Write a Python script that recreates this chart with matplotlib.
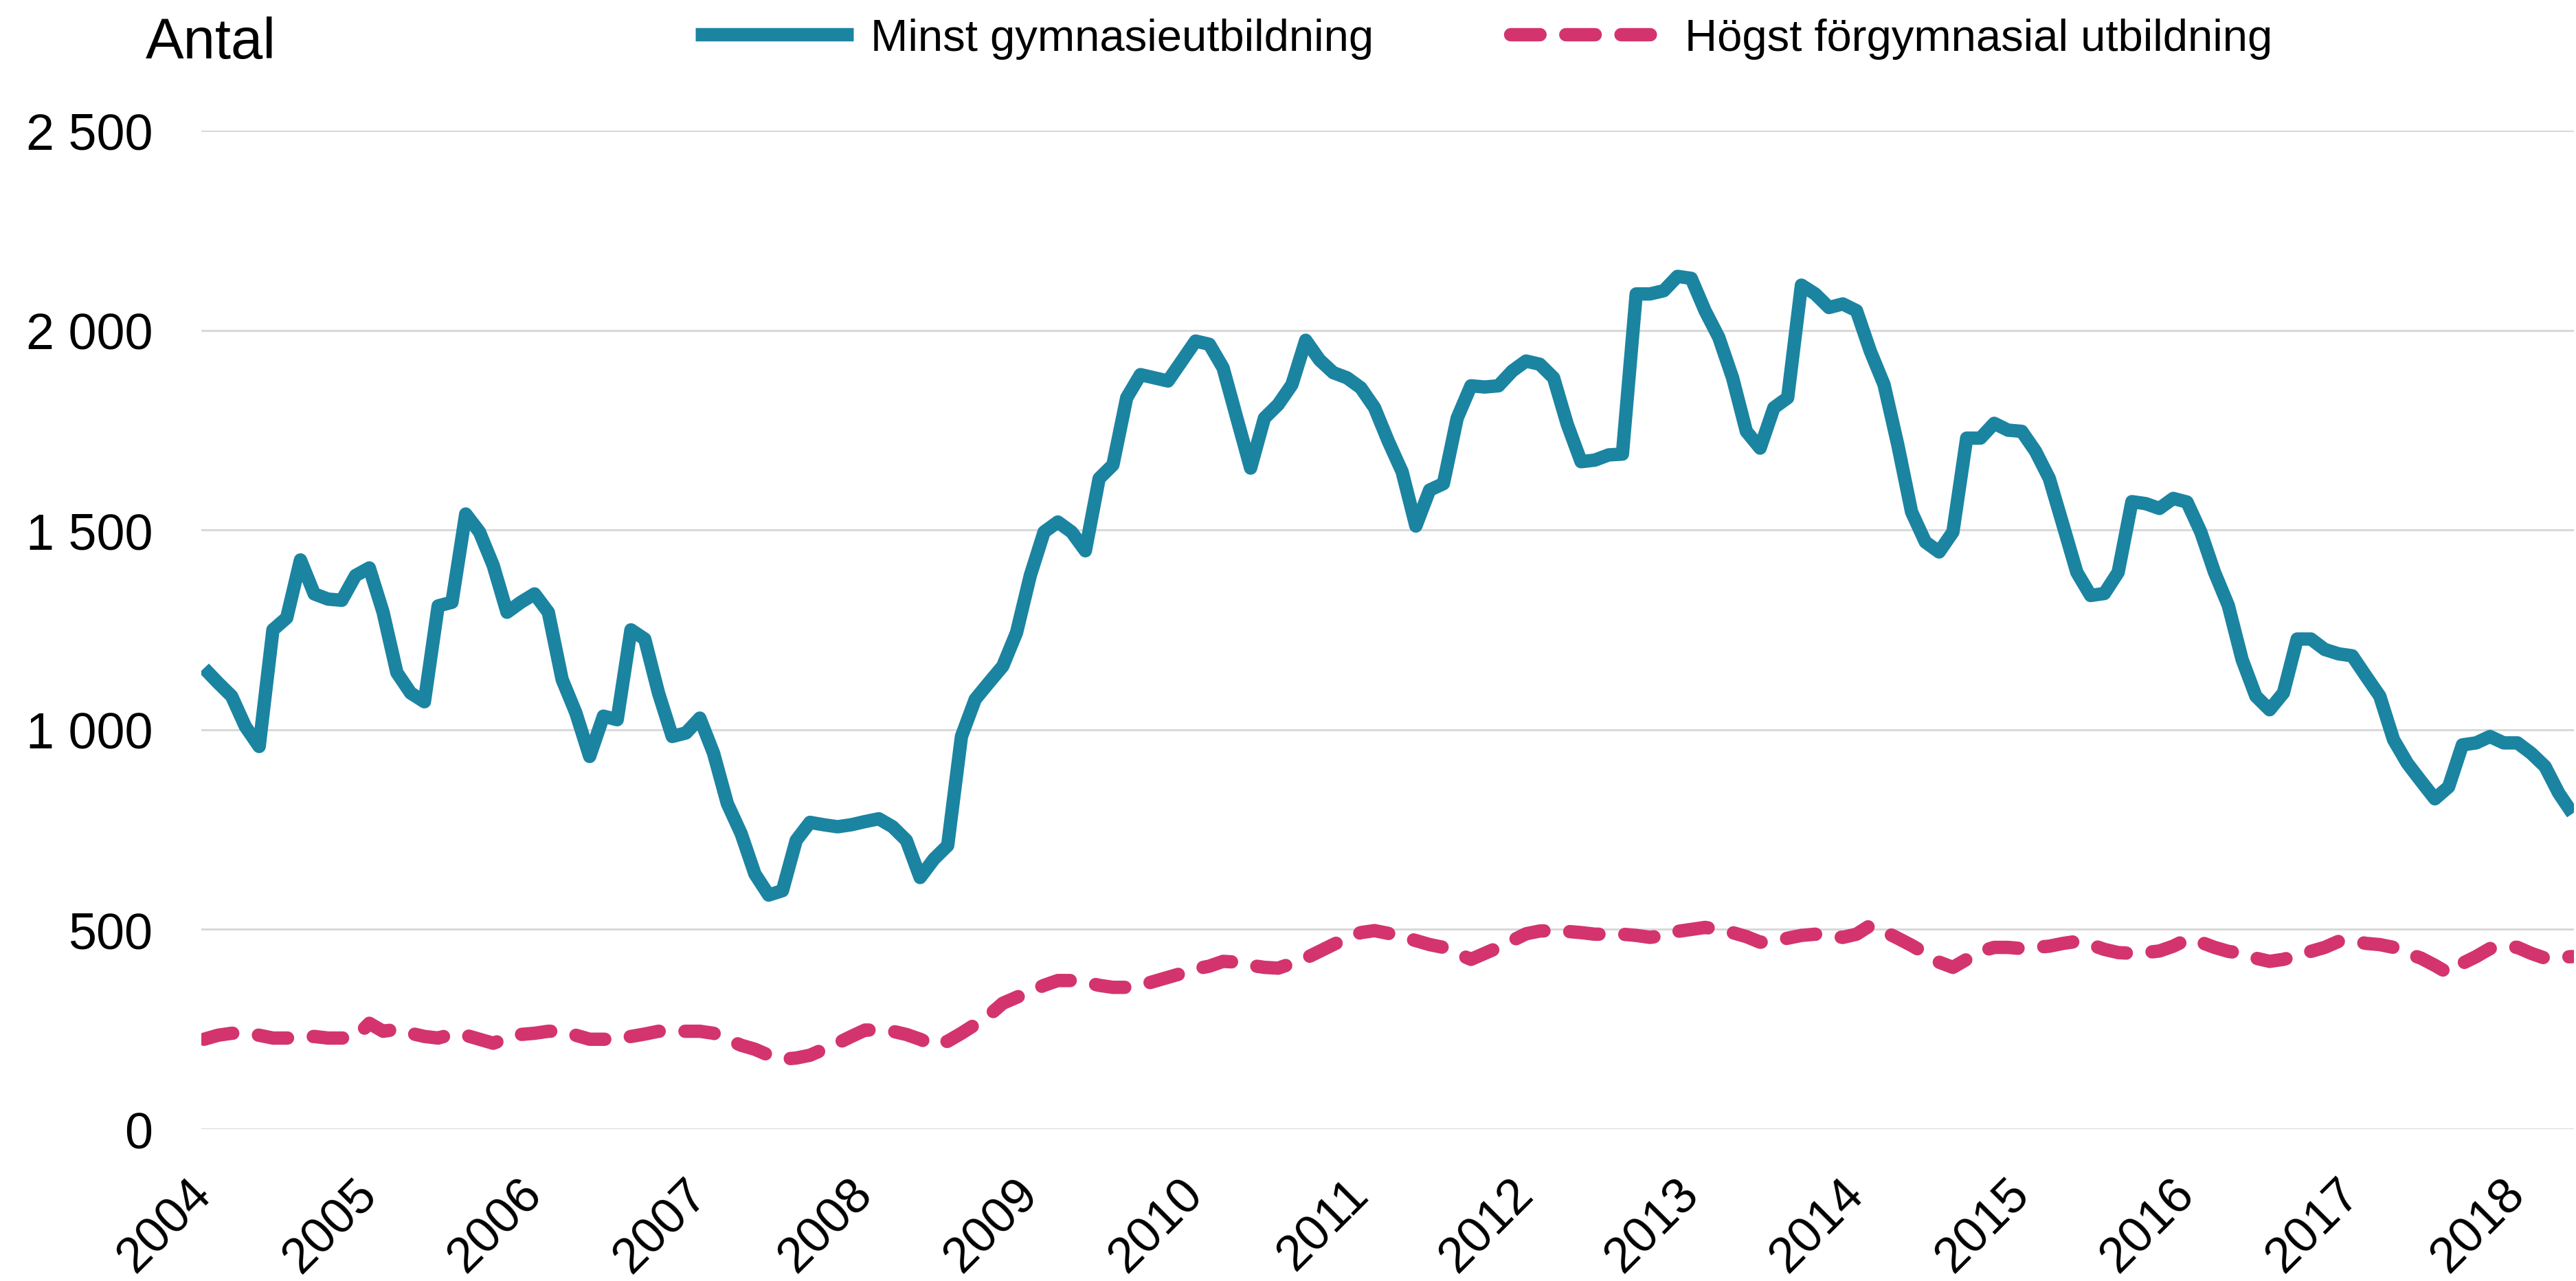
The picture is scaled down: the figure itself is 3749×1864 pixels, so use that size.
#!/usr/bin/env python3

import numpy as np
import matplotlib
matplotlib.use("Agg")
import matplotlib.pyplot as plt

plt.rcParams['font.family'] = ['Liberation Sans', 'DejaVu Sans']

# monthly values, jan 2004 - may 2018
years = list(range(2004, 2019))
series_names = ['Minst gymnasieutbildning', 'Högst förgymnasial utbildning']

minst_gymnasie = [
    1154, 1118, 1084, 1008, 958, 1250, 1280, 1425, 1340, 1327, 1324, 1386,   # 2004
    1405, 1294, 1143, 1092, 1070, 1310, 1319, 1540, 1495, 1411, 1294, 1319,  # 2005
    1340, 1294, 1126, 1042, 933, 1034, 1025, 1250, 1227, 1092, 983, 992,     # 2006
    1029, 941, 815, 740, 639, 586, 597, 723, 768, 762, 757, 762,             # 2007
    770, 777, 757, 723, 630, 676, 710, 983, 1076, 1118, 1159, 1243,          # 2008
    1386, 1495, 1520, 1495, 1448, 1629, 1663, 1831, 1889, 1881, 1873, 1923,  # 2009
    1973, 1965, 1906, 1780, 1655, 1780, 1814, 1864, 1975, 1926, 1894, 1881,  # 2010
    1856, 1806, 1722, 1646, 1510, 1600, 1616, 1780, 1861, 1858, 1861, 1898,  # 2011
    1923, 1915, 1881, 1764, 1671, 1675, 1688, 1690, 2091, 2091, 2099, 2135,  # 2012
    2130, 2049, 1982, 1881, 1747, 1705, 1806, 1831, 2113, 2091, 2057, 2066,  # 2013
    2049, 1948, 1864, 1713, 1545, 1470, 1445, 1495, 1730, 1730, 1767, 1750,  # 2014
    1747, 1697, 1629, 1512, 1394, 1336, 1341, 1394, 1571, 1566, 1554, 1579,  # 2015
    1570, 1495, 1394, 1311, 1176, 1084, 1050, 1092, 1227, 1227, 1201, 1190,  # 2016
    1185, 1134, 1084, 975, 916, 871, 827, 857, 962, 967, 983, 967,           # 2017
    967, 941, 908, 841, 790,                                                 # 2018
]

hogst_forgymnasial = [
    225, 235, 240, 240, 235, 228, 228, 230, 232, 228, 228, 230,   # 2004
    265, 245, 250, 240, 232, 228, 238, 235, 225, 215, 228, 237,   # 2005
    240, 245, 245, 235, 225, 225, 225, 232, 238, 245, 245, 245,   # 2006
    245, 240, 225, 210, 200, 185, 175, 178, 185, 200, 215, 232,   # 2007
    248, 248, 245, 237, 225, 210, 220, 240, 262, 285, 315, 330,   # 2008
    345, 360, 372, 372, 368, 360, 355, 355, 360, 370, 380, 390,   # 2009
    401, 408, 420, 418, 410, 405, 403, 415, 428, 445, 462, 478,   # 2010
    492, 497, 490, 482, 472, 462, 455, 440, 425, 440, 455, 472,   # 2011
    489, 496, 497, 495, 492, 488, 488, 488, 485, 480, 485, 495,   # 2012
    500, 505, 500, 492, 482, 468, 470, 478, 485, 488, 485, 480,   # 2013
    488, 510, 495, 478, 460, 440, 418, 405, 425, 445, 455, 455,   # 2014
    452, 455, 458, 465, 470, 462, 450, 442, 440, 442, 446, 458,   # 2015
    475, 468, 455, 445, 440, 428, 420, 425, 435, 445, 455, 470,   # 2016
    472, 465, 462, 455, 440, 428, 410, 390, 415, 432, 452, 458,   # 2017
    455, 440, 428, 430, 432,                                      # 2018
]

blue = '#1b84a1'
pink = '#d3346e'

W, H = 3749, 1865
fig = plt.figure(figsize=(W / 100, H / 100), dpi=100)
ax = fig.add_axes([293 / W, 1 - 1644 / H, (3746 - 293) / W, (1644 - 191) / H])

x = np.arange(len(minst_gymnasie))
ax.plot(x, minst_gymnasie, color=blue, lw=14, solid_joinstyle='round',
        solid_capstyle='butt', label=series_names[0])
ax.plot(x, hogst_forgymnasial, color=pink, lw=14, dashes=(2.2, 1.93),
        dash_capstyle='round', dash_joinstyle='round', label=series_names[1])

ax.set_xlim(-0.2, 172.1)
ax.set_ylim(0, 2500)
ax.set_yticks(range(0, 2501, 500))
ax.set_yticklabels([f'{v:,}'.replace(',', ' ') for v in range(0, 2501, 500)])
ax.set_xticks([12 * k for k in range(len(years))])
ax.set_xticklabels([str(y) for y in years], rotation=45, rotation_mode='anchor',
                   ha='right', va='center')

ax.grid(axis='y', color='#d9d9d9', lw=2.2)
ax.set_axisbelow(True)
for s in ax.spines.values():
    s.set_visible(False)
ax.tick_params(axis='y', length=0, labelsize=53, pad=51)
ax.tick_params(axis='x', length=0, labelsize=52, pad=60)

fig.text(212 / W, 1 - 85 / H, 'Antal', fontsize=60, va='baseline', ha='left')

fig.legend(loc='center left', bbox_to_anchor=(1012 / W, 1 - 57 / H), ncol=2,
           frameon=False, fontsize=47, handlelength=3.52, handletextpad=0.38,
           columnspacing=3.05, borderpad=0, borderaxespad=0)

fig.savefig('out.png', dpi=100)
